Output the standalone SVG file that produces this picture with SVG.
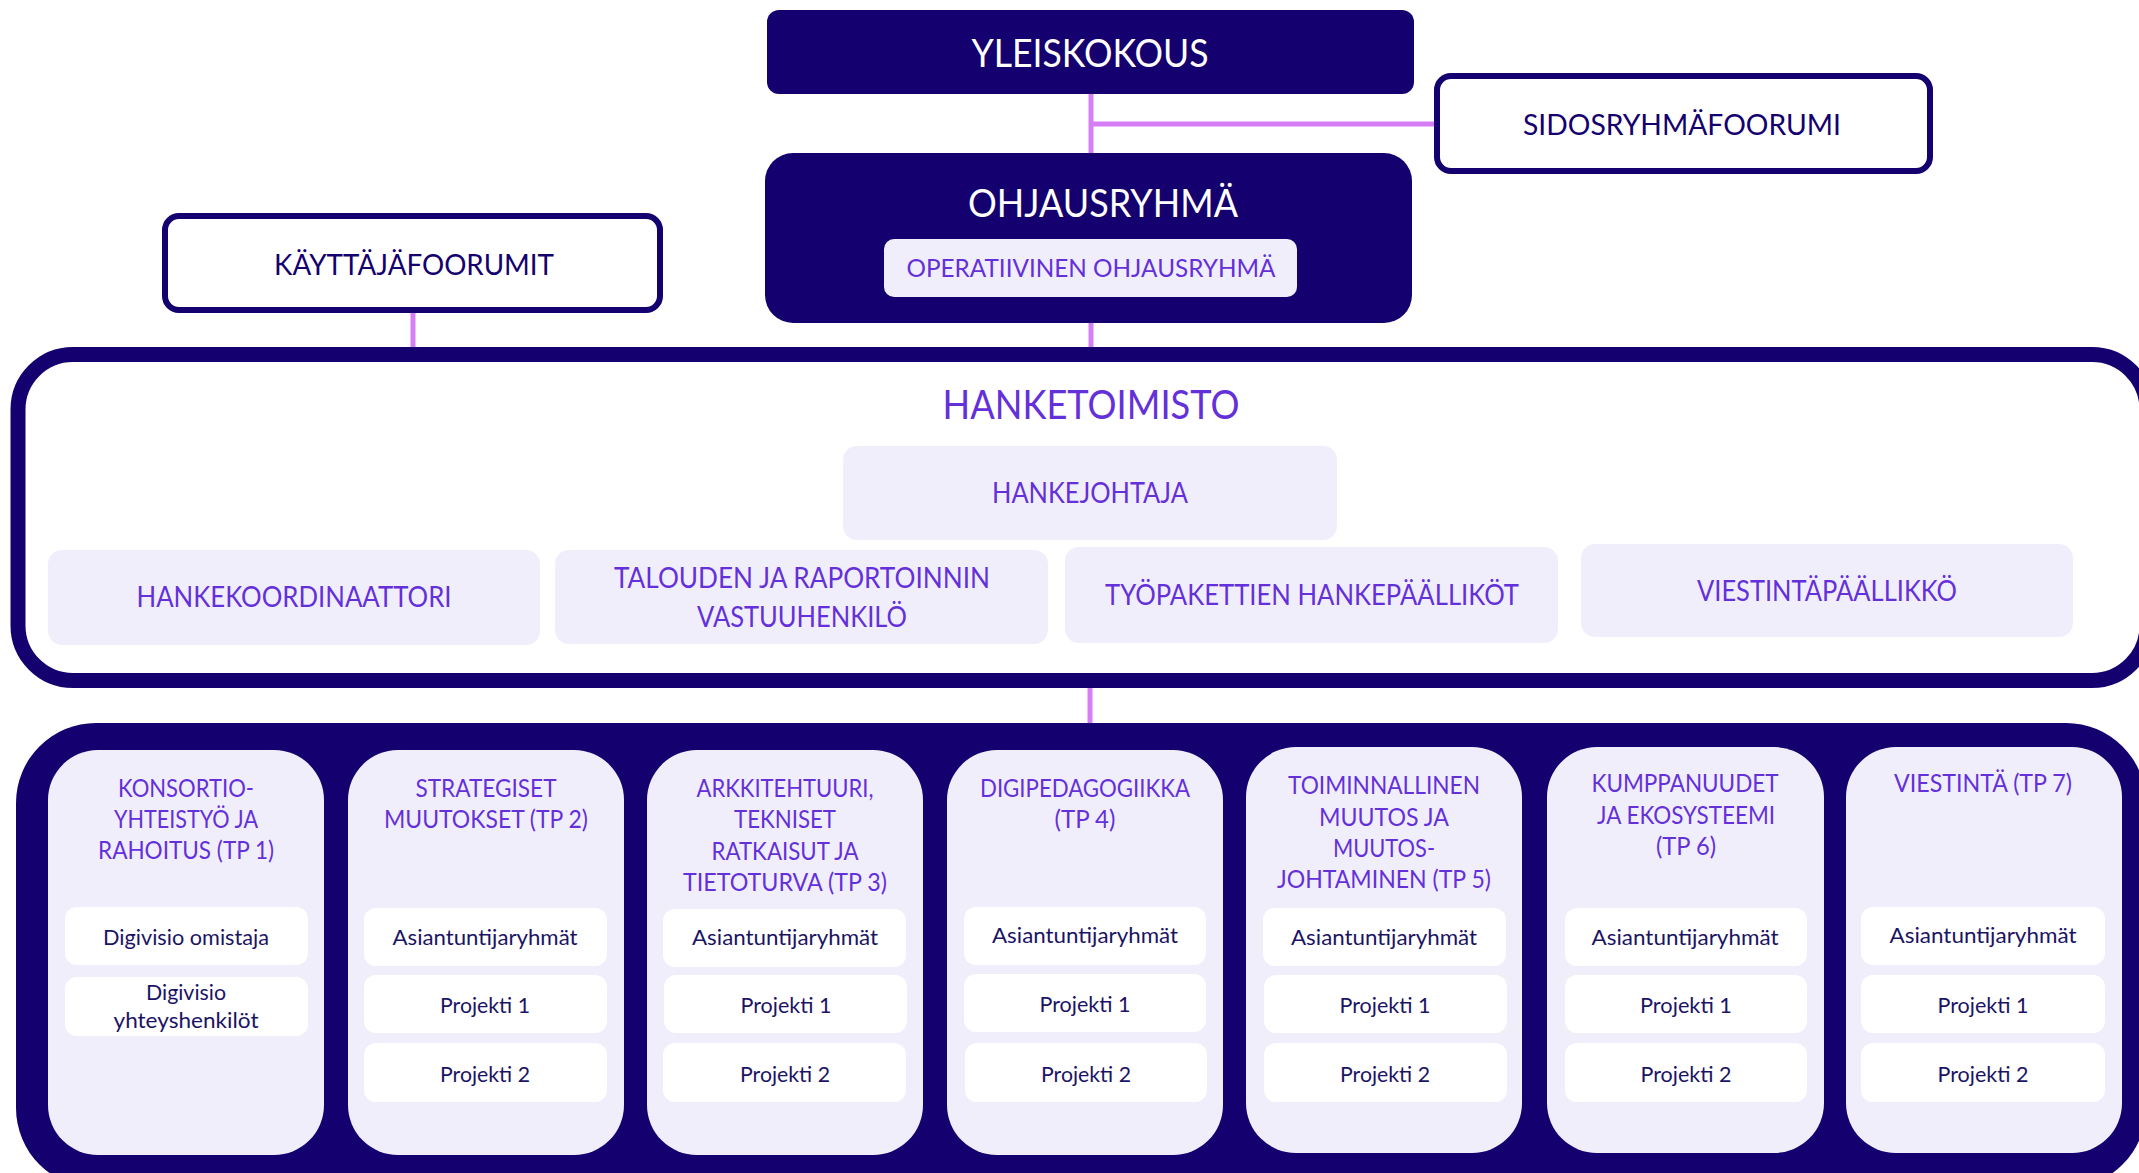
<svg xmlns="http://www.w3.org/2000/svg" width="2139" height="1173" viewBox="0 0 2139 1173">
<style>
text{font-family:Lato,"Liberation Sans",Arial,sans-serif;text-anchor:middle}
.dark{fill:#14006E}
.lav{fill:#F1EEFC}
.wbox{fill:#FFFFFF}
.frame{fill:#FFFFFF;stroke:#14006E;stroke-width:6}
.conn{stroke:#D67EF5;stroke-width:5;fill:none}
.tw{fill:#FFFFFF;font-size:39px}
.tn{fill:#14006E;font-size:29px}
.tp{fill:#6330D9;font-size:28px}
.th{fill:#6330D9;font-size:25px}
.ti{fill:#1B1464;font-size:22px}
</style>
<rect x="0" y="0" width="2139" height="1173" fill="#FFFFFF"/>
<g id="connectors">
<line class="conn" x1="1091" y1="92" x2="1091" y2="156"/>
<line class="conn" x1="1091" y1="124" x2="1436" y2="124" stroke-width="6"/>
<line class="conn" x1="1091" y1="320" x2="1091" y2="350"/>
<line class="conn" x1="413" y1="311" x2="413" y2="350"/>
<line class="conn" x1="1090" y1="686" x2="1090" y2="725"/>
</g>
<g id="yleiskokous">
<rect class="dark" x="767" y="10" width="647" height="84" rx="12"/>
<text class="tw" x="1090" y="67" textLength="237" lengthAdjust="spacingAndGlyphs">YLEISKOKOUS</text>
</g>
<g id="sidosryhmafoorumi">
<rect class="frame" x="1437" y="76" width="493" height="95" rx="14"/>
<text class="tn" x="1682" y="135" textLength="318" lengthAdjust="spacingAndGlyphs">SIDOSRYHMÄFOORUMI</text>
</g>
<g id="ohjausryhma">
<rect class="dark" x="765" y="153" width="647" height="170" rx="28"/>
<text class="tw" x="1103" y="217" textLength="270" lengthAdjust="spacingAndGlyphs">OHJAUSRYHMÄ</text>
</g>
<g id="operatiivinen">
<rect class="lav" x="884" y="239" width="413" height="58" rx="10"/>
<text class="th" x="1091" y="277" textLength="369" lengthAdjust="spacingAndGlyphs">OPERATIIVINEN OHJAUSRYHMÄ</text>
</g>
<g id="kayttajafoorumit">
<rect class="frame" x="165" y="216" width="495" height="94" rx="14"/>
<text class="tn" x="414" y="275" textLength="280" lengthAdjust="spacingAndGlyphs">KÄYTTÄJÄFOORUMIT</text>
</g>
<g id="hanketoimisto">
<rect x="18" y="354.5" width="2129" height="326" rx="55" fill="#FFFFFF" stroke="#14006E" stroke-width="15"/>
<text fill="#6330D9" font-size="41" x="1091" y="419" textLength="297" lengthAdjust="spacingAndGlyphs">HANKETOIMISTO</text>
</g>
<g id="hankejohtaja">
<rect class="lav" x="843" y="446" width="494" height="94" rx="14"/>
<text class="tp" x="1090" y="503" textLength="196" lengthAdjust="spacingAndGlyphs">HANKEJOHTAJA</text>
</g>
<g id="hankekoordinaattori">
<rect class="lav" x="48" y="550" width="492" height="95" rx="14"/>
<text class="tp" x="294" y="607" textLength="315" lengthAdjust="spacingAndGlyphs">HANKEKOORDINAATTORI</text>
</g>
<g id="talouden">
<rect class="lav" x="555" y="550" width="493" height="94" rx="14"/>
<text class="tp" x="802" y="588" textLength="376" lengthAdjust="spacingAndGlyphs">TALOUDEN JA RAPORTOINNIN</text>
<text class="tp" x="802" y="627" textLength="210" lengthAdjust="spacingAndGlyphs">VASTUUHENKILÖ</text>
</g>
<g id="tyopakettien">
<rect class="lav" x="1065" y="547" width="493" height="96" rx="14"/>
<text class="tp" x="1312" y="605" textLength="414" lengthAdjust="spacingAndGlyphs">TYÖPAKETTIEN HANKEPÄÄLLIKÖT</text>
</g>
<g id="viestintapaallikko">
<rect class="lav" x="1581" y="544" width="492" height="93" rx="14"/>
<text class="tp" x="1827" y="601" textLength="260" lengthAdjust="spacingAndGlyphs">VIESTINTÄPÄÄLLIKKÖ</text>
</g>
<g id="tyopaketit">
<rect class="dark" x="16" y="723" width="2130" height="465" rx="80"/>
</g>
<g id="tp1">
<rect class="lav" x="48" y="750" width="276" height="405" rx="50"/>
<text class="th" x="186" y="797" textLength="136" lengthAdjust="spacingAndGlyphs">KONSORTIO-</text>
<text class="th" x="186" y="828" textLength="144" lengthAdjust="spacingAndGlyphs">YHTEISTYÖ JA</text>
<text class="th" x="186" y="859" textLength="176" lengthAdjust="spacingAndGlyphs">RAHOITUS (TP 1)</text>
<rect class="wbox" x="65" y="907" width="243" height="58" rx="12"/>
<text class="ti" x="186" y="945" textLength="166" lengthAdjust="spacingAndGlyphs">Digivisio omistaja</text>
<rect class="wbox" x="65" y="977" width="243" height="59" rx="12"/>
<text class="ti" x="186" y="1000" textLength="80" lengthAdjust="spacingAndGlyphs">Digivisio</text>
<text class="ti" x="186" y="1028" textLength="145" lengthAdjust="spacingAndGlyphs">yhteyshenkilöt</text>
</g>
<g id="tp2">
<rect class="lav" x="348" y="750" width="276" height="405" rx="50"/>
<text class="th" x="486" y="797" textLength="141" lengthAdjust="spacingAndGlyphs">STRATEGISET</text>
<text class="th" x="486" y="828" textLength="204" lengthAdjust="spacingAndGlyphs">MUUTOKSET (TP 2)</text>
<rect class="wbox" x="364" y="908" width="243" height="58" rx="12"/>
<text class="ti" x="485" y="945" textLength="185" lengthAdjust="spacingAndGlyphs">Asiantuntijaryhmät</text>
<rect class="wbox" x="364" y="975" width="243" height="58" rx="12"/>
<text class="ti" x="485" y="1013" textLength="90" lengthAdjust="spacingAndGlyphs">Projekti 1</text>
<rect class="wbox" x="364" y="1043" width="243" height="59" rx="12"/>
<text class="ti" x="485" y="1082" textLength="90" lengthAdjust="spacingAndGlyphs">Projekti 2</text>
</g>
<g id="tp3">
<rect class="lav" x="647" y="750" width="276" height="405" rx="50"/>
<text class="th" x="785" y="797" textLength="177" lengthAdjust="spacingAndGlyphs">ARKKITEHTUURI,</text>
<text class="th" x="785" y="828" textLength="102" lengthAdjust="spacingAndGlyphs">TEKNISET</text>
<text class="th" x="785" y="860" textLength="147" lengthAdjust="spacingAndGlyphs">RATKAISUT JA</text>
<text class="th" x="785" y="891" textLength="204" lengthAdjust="spacingAndGlyphs">TIETOTURVA (TP 3)</text>
<rect class="wbox" x="663" y="909" width="243" height="58" rx="12"/>
<text class="ti" x="785" y="945" textLength="186" lengthAdjust="spacingAndGlyphs">Asiantuntijaryhmät</text>
<rect class="wbox" x="664" y="975" width="243" height="58" rx="12"/>
<text class="ti" x="786" y="1013" textLength="91" lengthAdjust="spacingAndGlyphs">Projekti 1</text>
<rect class="wbox" x="663" y="1043" width="243" height="59" rx="12"/>
<text class="ti" x="785" y="1082" textLength="90" lengthAdjust="spacingAndGlyphs">Projekti 2</text>
</g>
<g id="tp4">
<rect class="lav" x="947" y="750" width="276" height="405" rx="50"/>
<text class="th" x="1085" y="797" textLength="210" lengthAdjust="spacingAndGlyphs">DIGIPEDAGOGIIKKA</text>
<text class="th" x="1085" y="828" textLength="61" lengthAdjust="spacingAndGlyphs">(TP 4)</text>
<rect class="wbox" x="964" y="907" width="242" height="58" rx="12"/>
<text class="ti" x="1085" y="943" textLength="186" lengthAdjust="spacingAndGlyphs">Asiantuntijaryhmät</text>
<rect class="wbox" x="964" y="974" width="242" height="58" rx="12"/>
<text class="ti" x="1085" y="1012" textLength="91" lengthAdjust="spacingAndGlyphs">Projekti 1</text>
<rect class="wbox" x="965" y="1043" width="242" height="59" rx="12"/>
<text class="ti" x="1086" y="1082" textLength="90" lengthAdjust="spacingAndGlyphs">Projekti 2</text>
</g>
<g id="tp5">
<rect class="lav" x="1246" y="747" width="276" height="406" rx="50"/>
<text class="th" x="1384" y="794" textLength="192" lengthAdjust="spacingAndGlyphs">TOIMINNALLINEN</text>
<text class="th" x="1384" y="826" textLength="130" lengthAdjust="spacingAndGlyphs">MUUTOS JA</text>
<text class="th" x="1384" y="857" textLength="102" lengthAdjust="spacingAndGlyphs">MUUTOS-</text>
<text class="th" x="1384" y="888" textLength="214" lengthAdjust="spacingAndGlyphs">JOHTAMINEN (TP 5)</text>
<rect class="wbox" x="1263" y="908" width="243" height="58" rx="12"/>
<text class="ti" x="1384" y="945" textLength="186" lengthAdjust="spacingAndGlyphs">Asiantuntijaryhmät</text>
<rect class="wbox" x="1264" y="975" width="243" height="58" rx="12"/>
<text class="ti" x="1385" y="1013" textLength="91" lengthAdjust="spacingAndGlyphs">Projekti 1</text>
<rect class="wbox" x="1264" y="1043" width="243" height="59" rx="12"/>
<text class="ti" x="1385" y="1082" textLength="90" lengthAdjust="spacingAndGlyphs">Projekti 2</text>
</g>
<g id="tp6">
<rect class="lav" x="1547" y="747" width="277" height="406" rx="50"/>
<text class="th" x="1685" y="792" textLength="187" lengthAdjust="spacingAndGlyphs">KUMPPANUUDET</text>
<text class="th" x="1686" y="824" textLength="178" lengthAdjust="spacingAndGlyphs">JA EKOSYSTEEMI</text>
<text class="th" x="1686" y="855" textLength="60" lengthAdjust="spacingAndGlyphs">(TP 6)</text>
<rect class="wbox" x="1565" y="908" width="242" height="58" rx="12"/>
<text class="ti" x="1685" y="945" textLength="187" lengthAdjust="spacingAndGlyphs">Asiantuntijaryhmät</text>
<rect class="wbox" x="1565" y="975" width="242" height="58" rx="12"/>
<text class="ti" x="1686" y="1013" textLength="92" lengthAdjust="spacingAndGlyphs">Projekti 1</text>
<rect class="wbox" x="1565" y="1043" width="242" height="59" rx="12"/>
<text class="ti" x="1686" y="1082" textLength="91" lengthAdjust="spacingAndGlyphs">Projekti 2</text>
</g>
<g id="tp7">
<rect class="lav" x="1846" y="747" width="276" height="406" rx="50"/>
<text class="th" x="1983" y="792" textLength="178" lengthAdjust="spacingAndGlyphs">VIESTINTÄ (TP 7)</text>
<rect class="wbox" x="1861" y="907" width="244" height="58" rx="12"/>
<text class="ti" x="1983" y="943" textLength="187" lengthAdjust="spacingAndGlyphs">Asiantuntijaryhmät</text>
<rect class="wbox" x="1861" y="975" width="244" height="58" rx="12"/>
<text class="ti" x="1983" y="1013" textLength="91" lengthAdjust="spacingAndGlyphs">Projekti 1</text>
<rect class="wbox" x="1861" y="1043" width="244" height="59" rx="12"/>
<text class="ti" x="1983" y="1082" textLength="91" lengthAdjust="spacingAndGlyphs">Projekti 2</text>
</g>
</svg>
